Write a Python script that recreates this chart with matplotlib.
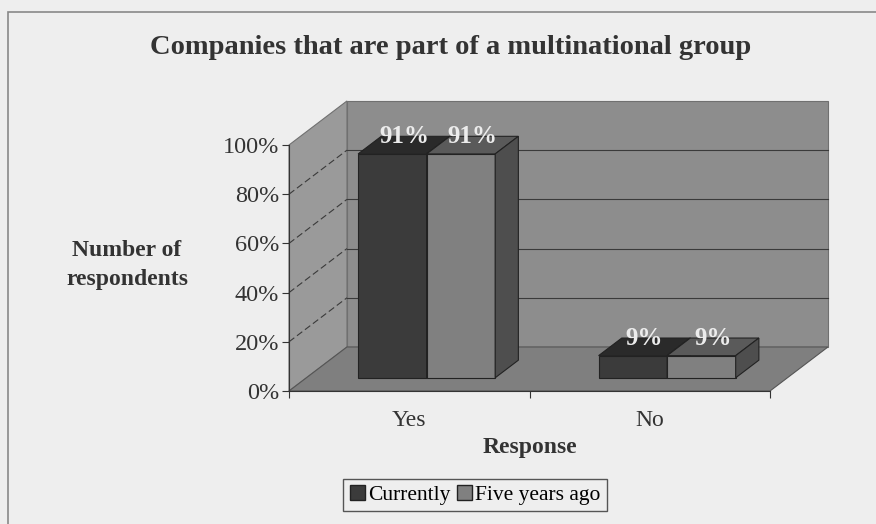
import matplotlib
matplotlib.use('Agg')
import matplotlib.pyplot as plt
from matplotlib.patches import Polygon, Rectangle, Patch

plt.rcParams['font.family'] = ['Liberation Serif', 'DejaVu Serif']

title = 'Companies that are part of a multinational group'
categories = ['Yes', 'No']
series = ['Currently', 'Five years ago']
currently = [91, 9]
five_years_ago = [91, 9]
yticks = [0, 20, 40, 60, 80, 100]

front_colors = ['#3b3b3b', '#808080']
top_colors = ['#2a2a2a', '#5a5a5a']
side_colors = ['#2e2e2e', '#4e4e4e']

# fake 3d: full depth shift in data units, bar width, bar depth band
DX, DY = 0.241, 17.9
BAR_W = 0.285
D0, D1 = 0.30, 0.70

fig = plt.figure(figsize=(8.76, 5.24), dpi=100, facecolor='#eeeeee')
ax = fig.add_axes([289/876, 133/524, 481/876, 246/524])
n = len(categories)
ax.set_xlim(0, n)
ax.set_ylim(0, 100)
ax.patch.set_visible(False)


def poly(pts, fc, ec='#222222', lw=0.8, z=1):
    ax.add_patch(Polygon(pts, closed=True, facecolor=fc, edgecolor=ec,
                         linewidth=lw, zorder=z, clip_on=False))


# walls and floor
poly([(DX, DY), (n+DX, DY), (n+DX, 100+DY), (DX, 100+DY)], '#8d8d8d', ec='#707070')
poly([(0, 0), (DX, DY), (DX, 100+DY), (0, 100)], '#9a9a9a', ec='#707070')
poly([(0, 0), (n, 0), (n+DX, DY), (DX, DY)], '#7f7f7f', ec='#555555')

for v in yticks[1:-1]:
    ax.plot([DX, n+DX], [v+DY, v+DY], color='#3a3a3a', lw=0.8, clip_on=False, zorder=2)
    ax.plot([0, DX], [v, v+DY], color='#3a3a3a', lw=0.8, ls=(0, (6, 3)), clip_on=False, zorder=2)

# bars
z = 3
ddx, ddy = (D1-D0)*DX, (D1-D0)*DY
for c in range(n):
    for i, vals in enumerate([currently, five_years_ago]):
        h = vals[c]
        x0 = c + 0.5 - BAR_W + i*BAR_W + D0*DX
        x1 = x0 + BAR_W
        y0 = D0*DY
        y1 = y0 + h
        poly([(x0, y0), (x1, y0), (x1, y1), (x0, y1)], front_colors[i], z=z)
        poly([(x0, y1), (x1, y1), (x1+ddx, y1+ddy), (x0+ddx, y1+ddy)], top_colors[i], z=z)
        poly([(x1, y0), (x1+ddx, y0+ddy), (x1+ddx, y1+ddy), (x1, y1)], side_colors[i], z=z)
        z += 1
    for i, vals in enumerate([currently, five_years_ago]):
        h = vals[c]
        x0 = c + 0.5 - BAR_W + i*BAR_W + D0*DX
        ax.text(x0 + BAR_W/2 + ddx/2, D0*DY + h + ddy, f'{h}%', ha='center', va='center',
                color='#ececec', fontweight='bold', fontsize=18, zorder=20)

for s in ['top', 'right']:
    ax.spines[s].set_visible(False)
for s in ['left', 'bottom']:
    ax.spines[s].set_color('#333333')
    ax.spines[s].set_zorder(2)

ax.set_yticks(yticks)
ax.set_yticklabels([f'{v}%' for v in yticks], fontsize=17.5, color='#333333')
ax.tick_params(axis='y', length=5, color='#333333', pad=2)
ax.set_xticks(range(n+1))
ax.set_xticklabels([])
ax.tick_params(axis='x', which='major', length=5, color='#333333')
ax.set_xticks([c + 0.5 for c in range(n)], minor=True)
ax.set_xticklabels(categories, minor=True, fontsize=17, color='#333333')
ax.tick_params(axis='x', which='minor', length=0, pad=14)
ax.set_xlabel('Response', fontsize=17, fontweight='bold', color='#333333', labelpad=4)

fig.text(127/876, 1-265/524, 'Number of\nrespondents', ha='center', va='center',
         fontsize=17, fontweight='bold', color='#333333', linespacing=1.5)
fig.text(451/876, 1-48/524, title, ha='center', va='center',
         fontsize=20.5, fontweight='bold', color='#333333')

handles = [Patch(facecolor=front_colors[i], edgecolor='#222222') for i in range(2)]
fig.legend(handles, series, loc='center', bbox_to_anchor=(475/876, 1-495/524), ncol=2,
           frameon=True, fancybox=False, edgecolor='#555555', facecolor='#eeeeee',
           handlelength=0.7, handleheight=0.7, handletextpad=0.15, columnspacing=0.3,
           borderpad=0.3, borderaxespad=0, fontsize=15.5, framealpha=1)

fig.patches.append(Rectangle((8/876, -0.05), 1.1, 1-12/524+0.05, transform=fig.transFigure,
                             fill=False, edgecolor='#888888', lw=1.2))

fig.savefig('out.png', dpi=100, facecolor=fig.get_facecolor())
